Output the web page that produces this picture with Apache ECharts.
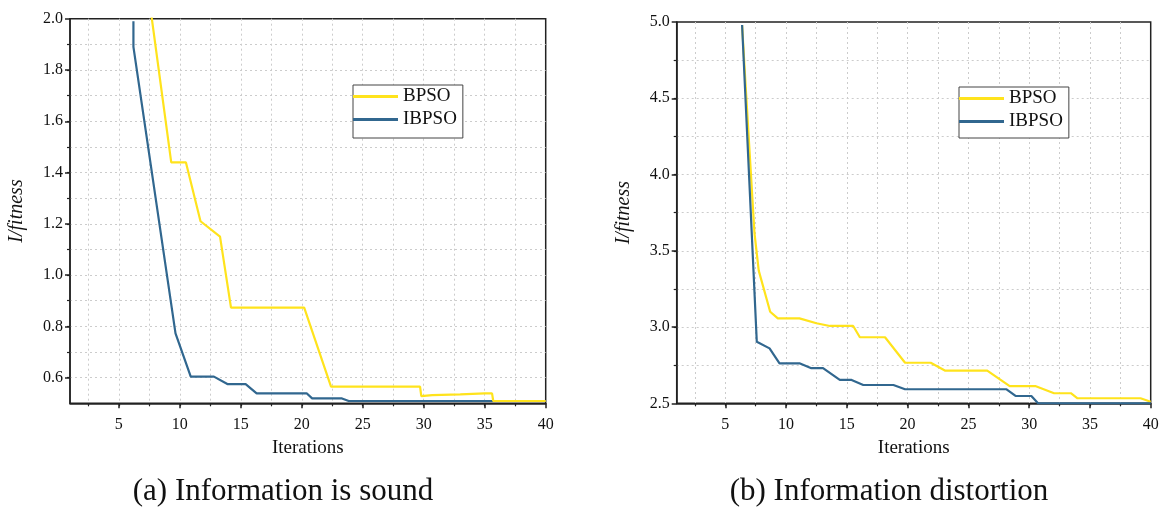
<!DOCTYPE html>
<html>
<head>
<meta charset="utf-8">
<script src="https://cdn.jsdelivr.net/npm/echarts@6/dist/echarts.min.js"></script>
<style>
  html, body { margin: 0; padding: 0; background: #fff; }
  #main { width: 1162px; height: 509px; }
</style>
</head>
<body>
<div id="main"></div>
<script>
// tick positions (grid lines stop short of the frame edges)
const xLabelTicks = [5, 10, 15, 20, 25, 30, 35, 40];
const xGridTicks = [2.5, 5, 7.5, 10, 12.5, 15, 17.5, 20, 22.5, 25, 27.5, 30, 32.5, 35, 37.5];
const ySoundLabels = [0.6, 0.8, 1.0, 1.2, 1.4, 1.6, 1.8, 2.0];
const ySoundGrid = [0.6, 0.7, 0.8, 0.9, 1.0, 1.1, 1.2, 1.3, 1.4, 1.5, 1.6, 1.7, 1.8, 1.9];
const yDistLabels = [2.5, 3.0, 3.5, 4.0, 4.5, 5.0];
const yDistGrid = [2.75, 3.0, 3.25, 3.5, 3.75, 4.0, 4.25, 4.5, 4.75];

// (a) information is sound : [iteration, 1/fitness]
const bpsoSound = [[7.0, 2.25], [9.3, 1.44], [10.5, 1.44], [11.7, 1.21], [13.3, 1.15], [14.2, 0.873],
    [20.2, 0.873], [22.4, 0.565], [29.7, 0.565], [29.8, 0.528], [30.7, 0.532], [33.0, 0.535],
    [35.0, 0.539], [35.6, 0.539], [35.7, 0.509], [40, 0.509]];
const ibpsoSound = [[6.2, 1.99], [6.2, 1.89], [9.65, 0.773], [10.9, 0.604], [12.8, 0.604], [13.9, 0.575],
    [15.4, 0.575], [16.3, 0.539], [20.4, 0.539], [20.85, 0.519], [23.3, 0.519], [23.85, 0.509], [40, 0.509]];

// (b) information distortion
const bpsoDist = [[6.38, 4.98], [6.71, 4.53], [7.4, 3.615], [7.75, 3.37], [8.69, 3.10], [9.32, 3.057],
    [11.1, 3.057], [12.5, 3.025], [13.6, 3.007], [15.52, 3.007], [16.07, 2.933], [18.14, 2.933],
    [19.79, 2.766], [21.9, 2.766], [23.1, 2.714], [26.55, 2.714], [28.4, 2.613], [30.5, 2.613],
    [32.05, 2.566], [33.43, 2.566], [33.98, 2.533], [39.16, 2.533], [40, 2.51]];
const ibpsoDist = [[6.38, 4.98], [6.95, 4.0], [7.59, 2.904], [8.64, 2.86], [9.46, 2.762], [11.1, 2.762],
    [12.08, 2.73], [13.04, 2.73], [14.42, 2.653], [15.39, 2.653], [16.35, 2.62], [18.83, 2.62],
    [19.79, 2.592], [28.14, 2.592], [28.88, 2.548], [30.18, 2.548], [30.73, 2.5], [40, 2.5]];

const FONT = 'Liberation Serif';
const YELLOW = '#FFE31C';
const BLUE = '#31678F';
const AXIS = '#222';

function gridAxisX(gi) {
    return {
        type: 'value', gridIndex: gi, min: 1, max: 40, position: 'bottom',
        axisLine: { show: true, lineStyle: { color: AXIS, width: 1.5 } },
        axisTick: { show: true, customValues: xGridTicks, length: 3, lineStyle: { color: AXIS, width: 1.2 } },
        axisLabel: { show: false },
        splitLine: { show: true, lineStyle: { color: '#cccccc', type: [2, 3], width: 1 } }
    };
}
function labelAxisX(gi) {
    return {
        type: 'value', gridIndex: gi, min: 1, max: 40, position: 'bottom',
        axisLine: { show: false },
        axisTick: { show: true, customValues: xLabelTicks, length: 5, lineStyle: { color: AXIS, width: 1.5 } },
        axisLabel: { customValues: xLabelTicks, margin: 13, fontFamily: FONT, fontSize: 16, color: '#111' },
        splitLine: { show: false },
        name: 'Iterations', nameLocation: 'middle', nameGap: 35,
        nameTextStyle: { fontFamily: FONT, fontSize: 19, color: '#111' }
    };
}
function gridAxisY(gi, min, max, ticks) {
    return {
        type: 'value', gridIndex: gi, min: min, max: max, position: 'left',
        axisLine: { show: true, lineStyle: { color: AXIS, width: 1.5 } },
        axisTick: { show: true, customValues: ticks, length: 3, lineStyle: { color: AXIS, width: 1.2 } },
        axisLabel: { show: false },
        splitLine: { show: true, lineStyle: { color: '#cccccc', type: [2, 3], width: 1 } }
    };
}
function labelAxisY(gi, min, max, labels) {
    return {
        type: 'value', gridIndex: gi, min: min, max: max, position: 'left',
        axisLine: { show: false },
        axisTick: { show: true, customValues: labels, length: 5, lineStyle: { color: AXIS, width: 1.5 } },
        axisLabel: {
            customValues: labels, margin: 7, fontFamily: FONT, fontSize: 16, color: '#111',
            formatter: function (v) { return v.toFixed(1); }
        },
        splitLine: { show: false },
        name: 'I/fitness', nameLocation: 'middle', nameGap: 43,
        nameTextStyle: { fontFamily: FONT, fontSize: 20, fontStyle: 'italic', color: '#111' }
    };
}
function lineSeries(name, data, color, xi, yi) {
    return {
        name: name, type: 'line', data: data, xAxisIndex: xi, yAxisIndex: yi,
        symbol: 'none', showSymbol: false, animation: false, clip: true,
        lineStyle: { color: color, width: 2.2 }, itemStyle: { color: color }
    };
}
function legendAt(left, top, pad) {
    return {
        orient: 'vertical', left: left, top: top, data: ['BPSO', 'IBPSO'],
        icon: 'rect', itemWidth: 45, itemHeight: 3, itemGap: 4, padding: pad,
        borderColor: '#444', borderWidth: 1, backgroundColor: '#fff',
        textStyle: { fontFamily: FONT, fontSize: 19, color: '#111' }
    };
}

let myChart = echarts.init(document.getElementById('main'));
let option = {
    backgroundColor: '#fff',
    animation: false,
    grid: [
        { left: 70, top: 18.7, width: 475.7, height: 384.6, show: true, borderColor: AXIS, borderWidth: 1.5,
          containLabel: false, outerBoundsMode: 'none' },
        { left: 676.7, top: 22, width: 474, height: 381.3, show: true, borderColor: AXIS, borderWidth: 1.5,
          containLabel: false, outerBoundsMode: 'none' }
    ],
    legend: [legendAt(353, 85, [2, 6, 9, 0]), legendAt(959, 87, [2, 6, 7, 0])],
    xAxis: [gridAxisX(0), labelAxisX(0), gridAxisX(1), labelAxisX(1)],
    yAxis: [gridAxisY(0, 0.5, 2.0, ySoundGrid), labelAxisY(0, 0.5, 2.0, ySoundLabels),
        gridAxisY(1, 2.5, 5.0, yDistGrid), labelAxisY(1, 2.5, 5.0, yDistLabels)],
    series: [
        lineSeries('IBPSO', ibpsoSound, BLUE, 0, 0),
        lineSeries('BPSO', bpsoSound, YELLOW, 0, 0),
        lineSeries('BPSO', bpsoDist, YELLOW, 2, 2),
        lineSeries('IBPSO', ibpsoDist, BLUE, 2, 2)
    ],
    graphic: [
        {
            type: 'text', x: 283, y: 492,
            style: { text: '(a) Information is sound', fontFamily: FONT, fontSize: 31, fill: '#111',
                textAlign: 'center', textVerticalAlign: 'middle' }
        },
        {
            type: 'text', x: 889, y: 492,
            style: { text: '(b) Information distortion', fontFamily: FONT, fontSize: 31, fill: '#111',
                textAlign: 'center', textVerticalAlign: 'middle' }
        }
    ]
};
myChart.setOption(option, true);
</script>
</body>
</html>
